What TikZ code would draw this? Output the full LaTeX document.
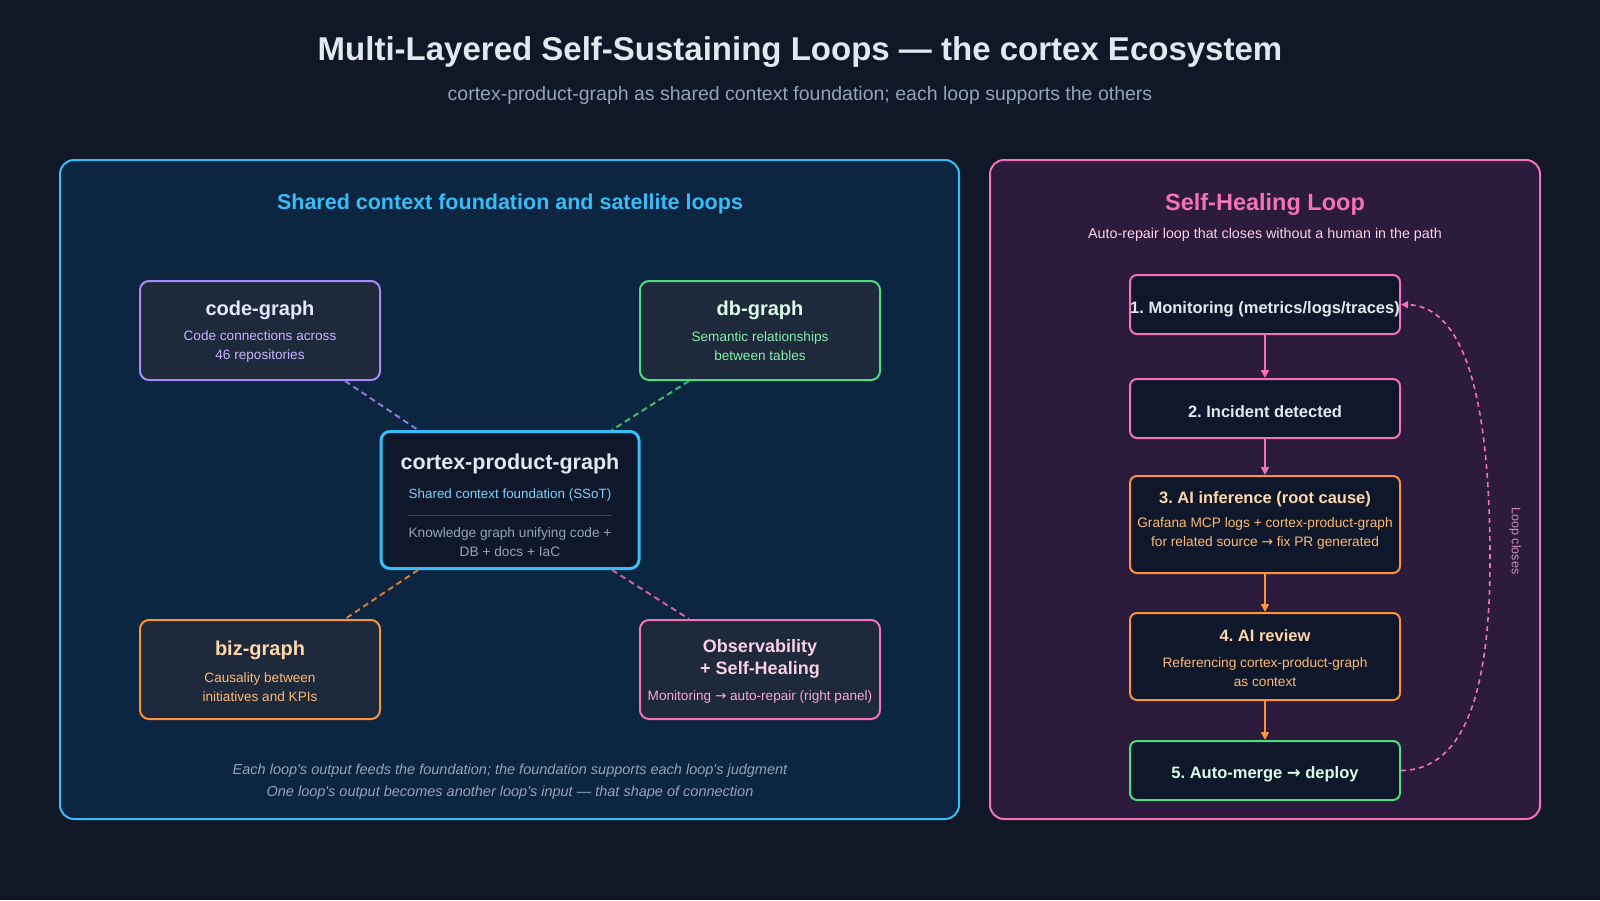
\documentclass[tikz,border=0pt]{standalone}
\usepackage{fontspec}
\setmainfont{Liberation Sans}
\newfontfamily\arrowfont{DejaVu Sans}
\usetikzlibrary{arrows.meta, positioning}

\definecolor{pagebg}{HTML}{101828}
\definecolor{leftbg}{HTML}{0C2541}
\definecolor{rightbg}{HTML}{2C1B3D}
\definecolor{cardbg}{HTML}{1E293B}
\definecolor{stepbg}{HTML}{0F172A}
\definecolor{skyC}{HTML}{38BDF8}
\definecolor{skysub}{HTML}{7DD3FC}
\definecolor{violetC}{HTML}{A78BFA}
\definecolor{violettitle}{HTML}{E0E7FF}
\definecolor{violetsub}{HTML}{C4B5FD}
\definecolor{greenC}{HTML}{4ADE80}
\definecolor{greentitle}{HTML}{DCFCE7}
\definecolor{greensub}{HTML}{86EFAC}
\definecolor{orangeC}{HTML}{FB923C}
\definecolor{orangetitle}{HTML}{FED7AA}
\definecolor{orangesub}{HTML}{FDBA74}
\definecolor{pinkC}{HTML}{F472B6}
\definecolor{pinktitle}{HTML}{FBCFE8}
\definecolor{pinksub}{HTML}{F9A8D4}
\definecolor{maintext}{HTML}{E2E8F0}
\definecolor{greytext}{HTML}{94A3B8}
\definecolor{rulegrey}{HTML}{334155}

\newcommand{\pxfont}[2]{\fontsize{#1}{#2}\selectfont}
\newcommand{\rarr}{{\arrowfont →}}
\newcommand{\apos}{\textquotesingle}
\frenchspacing

\begin{document}
\begin{tikzpicture}[x=1pt, y=-1pt,
    card/.style={draw, rounded corners=9pt, line width=2pt, fill=cardbg, inner sep=0pt},
    stepbox/.style={draw, rounded corners=7pt, line width=2pt, fill=stepbg, inner sep=0pt,
        minimum width=270, minimum height=59},
    cardtitle/.style={font=\pxfont{20}{24}\bfseries},
    cardsub/.style={font=\pxfont{13.6}{19}, align=center},
    steptitle/.style={font=\pxfont{16.5}{20}\bfseries},
    spoke/.style={line width=2pt, dash pattern=on 6pt off 4pt},
    flow/.style={line width=1.6pt, -{Triangle[length=8pt, width=8pt]}}]

    % Background and frame
    \fill[pagebg] (0,0) rectangle (1600,900);
    \useasboundingbox (0,0) rectangle (1600,900);

    % Heading
    \node[font=\pxfont{33}{38}\bfseries, text=maintext] (title) at (800,52)
        {Multi-Layered Self-Sustaining Loops — the cortex Ecosystem};
    \node[font=\pxfont{19.5}{24}, text=greytext] (subtitle) at (800,95)
        {cortex-product-graph as shared context foundation; each loop supports the others};

    % Left panel
    \draw[skyC, fill=leftbg, line width=2pt, rounded corners=14pt] (60,160) rectangle (959,819);
    \node[font=\pxfont{21.5}{25}\bfseries, text=skyC] (lefttitle) at (510,204)
        {Shared context foundation and satellite loops};

    % Satellite graphs
    \node[card, draw=violetC, minimum width=240, minimum height=99] (code) at (260,330.5) {};
    \node[cardtitle, text=violettitle] at (260,310) {code-graph};
    \node[cardsub, text=violetsub] at (260,346.5) {Code connections across\\46 repositories};

    \node[card, draw=greenC, minimum width=240, minimum height=99] (db) at (760,330.5) {};
    \node[cardtitle, text=greentitle] at (760,310) {db-graph};
    \node[cardsub, text=greensub] at (760,346.5) {Semantic relationships\\between tables};

    \node[card, draw=orangeC, minimum width=240, minimum height=99] (biz) at (260,669.5) {};
    \node[cardtitle, text=orangetitle] at (260,650) {biz-graph};
    \node[cardsub, text=orangesub] at (260,687) {Causality between\\initiatives and KPIs};

    \node[card, draw=pinkC, minimum width=240, minimum height=99] (obs) at (760,669.5) {};
    \node[font=\pxfont{18}{22.5}\bfseries, align=center, text=pinktitle] at (760,659)
        {Observability\\+ Self-Healing};
    \node[cardsub, text=pinksub] at (760,697) {Monitoring \rarr{} auto-repair (right panel)};

    % Foundation
    \node[card, draw=skyC, fill=stepbg, line width=3pt, minimum width=258, minimum height=137] (core) at (510,500) {};
    \node[font=\pxfont{21.5}{25}\bfseries, text=maintext] at (510,464) {cortex-product-graph};
    \node[font=\pxfont{13.4}{16}, text=skysub] at (510,495) {Shared context foundation (SSoT)};
    \draw[rulegrey, line width=1pt] (408,515) -- (612,515);
    \node[cardsub, font=\pxfont{13.7}{18.5}, text=greytext] at (510,542)
        {Knowledge graph unifying code +\\DB + docs + IaC};

    % Spokes into the foundation
    \draw[spoke, violetC!85!black] ([xshift=85]code.south) -- ([xshift=-92]core.north);
    \draw[spoke, greenC!85!black] ([xshift=-71]db.south) -- ([xshift=102]core.north);
    \draw[spoke, orangeC!85!black] ([xshift=-92]core.south) -- ([xshift=85]biz.north);
    \draw[spoke, pinkC!85!black] ([xshift=102]core.south) -- ([xshift=-71]obs.north);

    % Footnote
    \node[font=\pxfont{14.5}{22}\itshape, align=center, text=greytext] (note) at (510,782)
        {Each loop\apos s output feeds the foundation; the foundation supports each loop\apos s judgment\\
         One loop\apos s output becomes another loop\apos s input — that shape of connection};

    % Right panel
    \draw[pinkC, fill=rightbg, line width=2pt, rounded corners=14pt] (990,160) rectangle (1540,819);
    \node[font=\pxfont{23.5}{28}\bfseries, text=pinkC] (righttitle) at (1265,204) {Self-Healing Loop};
    \node[font=\pxfont{14.3}{17}, text=pinktitle] (rightsub) at (1265,235)
        {Auto-repair loop that closes without a human in the path};

    % Loop steps
    \node[stepbox, draw=pinkC] (s1) at (1265,304.5) {};
    \node[steptitle, text=maintext] at (1265,309) {1. Monitoring (metrics/logs/traces)};

    \node[stepbox, draw=pinkC] (s2) at (1265,408.5) {};
    \node[steptitle, text=maintext] at (1265,412) {2. Incident detected};

    \node[stepbox, draw=orangeC, minimum height=97] (s3) at (1265,524.5) {};
    \node[steptitle, text=orangetitle] at (1265,499) {3. AI inference (root cause)};
    \node[cardsub, font=\pxfont{13.7}{18.5}, text=orangesub] at (1265,533.5)
        {Grafana MCP logs + cortex-product-graph\\for related source \rarr{} fix PR generated};

    \node[stepbox, draw=orangeC, minimum height=87] (s4) at (1265,656.5) {};
    \node[steptitle, text=orangetitle] at (1265,636) {4. AI review};
    \node[cardsub, font=\pxfont{13.7}{18.5}, text=orangesub] at (1265,672)
        {Referencing cortex-product-graph\\as context};

    \node[stepbox, draw=greenC] (s5) at (1265,770.5) {};
    \node[steptitle, text=greentitle] at (1265,774) {5. Auto-merge \rarr{} deploy};

    % Step arrows
    \draw[flow, pinkC] (s1.south) -- (s2.north);
    \draw[flow, pinkC] (s2.south) -- (s3.north);
    \draw[flow, orangeC] (s3.south) -- (s4.north);
    \draw[flow, orangeC] (s4.south) -- (s5.north);

    % Closing the loop
    \draw[pinkC, line width=1.6pt, dash pattern=on 5pt off 4pt, -{Triangle[length=7pt, width=7pt]}]
        (s5.east) .. controls (1465,770) and (1490,690) .. (1490,560)
        .. controls (1490,400) and (1465,306) .. (s1.east);
    \node[font=\pxfont{12.5}{15}, text=pinksub!80!rightbg, rotate=-90] (loopnote) at (1515,541) {Loop closes};
\end{tikzpicture}
\end{document}
